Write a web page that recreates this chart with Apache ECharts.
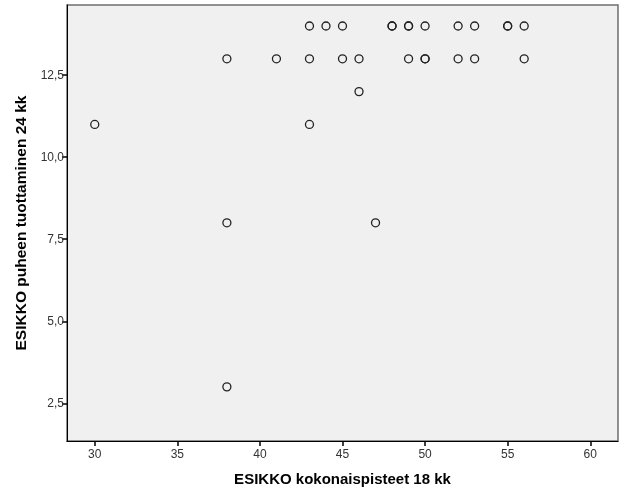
<!DOCTYPE html>
<html>
<head>
<meta charset="utf-8">
<script src="https://cdn.jsdelivr.net/npm/echarts@6/dist/echarts.min.js"></script>
<style>html,body{margin:0;padding:0;background:#fff;}#c{width:626px;height:501px;}</style>
</head>
<body>
<div id="c"></div>
<script>
// ESIKKO kokonaispisteet 18 kk (x) and ESIKKO puheen tuottaminen 24 kk (y)
var xValues = [43, 44, 45, 48, 48, 49, 49, 50, 52, 53, 55, 55, 56,
               38, 41, 43, 45, 46, 49, 50, 50, 52, 53, 56,
               46, 30, 43, 38, 47, 38];
var yValues = [14, 14, 14, 14, 14, 14, 14, 14, 14, 14, 14, 14, 14,
               13, 13, 13, 13, 13, 13, 13, 13, 13, 13, 13,
               12, 11, 11, 8, 8, 3];
var xTicks = [30, 35, 40, 45, 50, 55, 60];
var yTicks = [2.5, 5.0, 7.5, 10.0, 12.5];
var xTitle = 'ESIKKO kokonaispisteet 18 kk';
var yTitle = 'ESIKKO puheen tuottaminen 24 kk';

var points = xValues.map(function (x, i) { return [x, yValues[i]]; });

var chart = echarts.init(document.getElementById('c'), null, {renderer: 'canvas'});
chart.setOption({
  animation: false,
  backgroundColor: '#ffffff',
  grid: {
    left: 67, right: 8, top: 5, bottom: 60,
    show: true, backgroundColor: '#f0f0f0', borderColor: '#6e6e6e', borderWidth: 1.5
  },
  xAxis: {
    type: 'value', min: 28.32, max: 61.68,
    name: xTitle, nameLocation: 'middle', nameGap: 31,
    nameTextStyle: {fontFamily: 'Liberation Sans', fontWeight: 'bold', fontSize: 15, color: '#000'},
    axisLine: {show: true, onZero: false, lineStyle: {color: '#000', width: 1}},
    axisTick: {show: true, customValues: xTicks, length: 5, lineStyle: {color: '#000', width: 1.5}},
    axisLabel: {show: true, customValues: xTicks, color: '#333', fontFamily: 'Liberation Sans', fontSize: 12, margin: 8,
      formatter: function (v) { return String(v); }},
    splitLine: {show: false}
  },
  yAxis: {
    type: 'value', min: 1.35, max: 14.64,
    name: yTitle, nameLocation: 'middle', nameGap: 37, nameRotate: 90,
    nameTextStyle: {fontFamily: 'Liberation Sans', fontWeight: 'bold', fontSize: 15.5, color: '#000'},
    axisLine: {show: true, onZero: false, lineStyle: {color: '#000', width: 1}},
    axisTick: {show: true, customValues: yTicks, length: 5, lineStyle: {color: '#000', width: 1.5}},
    axisLabel: {show: true, customValues: yTicks, color: '#333', fontFamily: 'Liberation Sans', fontSize: 12, margin: 3,
      formatter: function (v) { return v.toFixed(1).replace('.', ','); }},
    splitLine: {show: false}
  },
  series: [{
    type: 'scatter',
    data: points,
    symbol: 'circle',
    symbolSize: 8,
    itemStyle: {color: 'rgba(0,0,0,0)', borderColor: '#222', borderWidth: 1.3, opacity: 1},
    emphasis: {disabled: true}
  }]
});
</script>
</body>
</html>
